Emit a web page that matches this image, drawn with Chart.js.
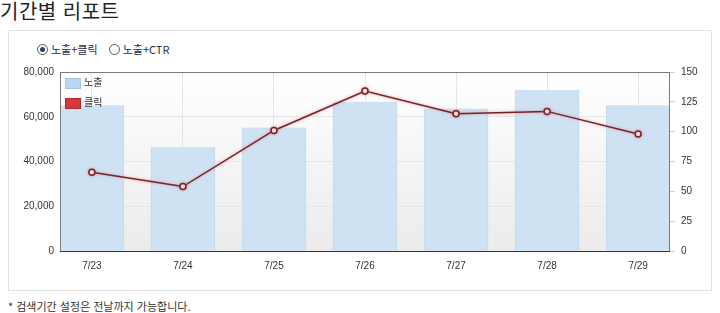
<!DOCTYPE html>
<html lang="ko">
<head>
<meta charset="utf-8">
<script src="https://cdn.jsdelivr.net/npm/chart.js@4"></script>
<style>
  body { margin: 0; width: 720px; height: 313px; background: #fff; position: relative; overflow: hidden;
         font-family: "Noto Sans CJK KR", "Noto Sans", sans-serif; color: #333; }
  h1 { position: absolute; left: 0; top: -4px; margin: 0; font-size: 20px; font-weight: 400; color: #222; letter-spacing: 0.5px; }
  .box { position: absolute; left: 8px; top: 30px; width: 702px; height: 259px; border: 1px solid #e2e2e2; }
  .radios { position: absolute; left: 37px; top: 39px; font-size: 11px; color: #1d2a4a; }
  .radio { display: inline-block; vertical-align: middle; width: 9px; height: 9px; border: 1px solid #555; border-radius: 50%;
           position: relative; margin-right: 3px; background: #fff; }
  .radio.on::after { content: ""; position: absolute; left: 2px; top: 2px; width: 5px; height: 5px; border-radius: 50%; background: #2a3f7a; }
  .radios span.t { vertical-align: middle; margin-right: 8px; }
  .legend { position: absolute; left: 65px; top: 75px; font-size: 10px; color: #333; }
  .legend div { height: 20px; line-height: 13px; }
  .legend i { display: inline-block; vertical-align: middle; width: 14px; height: 9px; margin-right: 3px; }
  .note { position: absolute; left: 8px; top: 298px; font-size: 11px; color: #333; }
  canvas { position: absolute; left: 10px; top: 60px; }
</style>
</head>
<body>
<h1>기간별 리포트</h1>
<div class="box"></div>
<div class="radios">
  <span class="radio on"></span><span class="t">노출+클릭</span>
  <span class="radio"></span><span class="t">노출+CTR</span>
</div>
<div id="wrap"><canvas id="chart" width="700" height="214"></canvas></div>
<div class="legend">
  <div><i style="background:#b9d7f0;border:1px solid #a6c8e6"></i>노출</div>
  <div><i style="background:#d23a3a;border:1px solid #b02a2a"></i>클릭</div>
</div>
<div class="note">* 검색기간 설정은 전날까지 가능합니다.</div>
<script>
const labels = ["7/23", "7/24", "7/25", "7/26", "7/27", "7/28", "7/29"];
const impressions = [65100, 46400, 55200, 66700, 63700, 72000, 65100];
const clicks = [66, 54, 101, 134, 115, 117, 98];
const leftTicks = [0, 20000, 40000, 60000, 80000];
const rightTicks = [0, 25, 50, 75, 100, 125, 150];

// fond dégradé + cadre autour de la zone du graphique
const areaPlugin = {
  id: 'area',
  beforeDraw(chart) {
    const { ctx, chartArea: a } = chart;
    const g = ctx.createLinearGradient(0, a.top, 0, a.bottom);
    g.addColorStop(0, '#ffffff');
    g.addColorStop(1, '#ebebeb');
    ctx.save();
    ctx.fillStyle = g;
    ctx.fillRect(a.left, a.top, a.right - a.left, a.bottom - a.top);
    ctx.restore();
  },
  afterDatasetsDraw(chart) {
    const { ctx, chartArea: a } = chart;
    ctx.save();
    ctx.strokeStyle = '#7a7a7a';
    ctx.lineWidth = 1;
    ctx.strokeRect(a.left + 0.5, a.top + 0.5, a.right - a.left - 1, a.bottom - a.top);
    ctx.strokeStyle = '#333';
    ctx.beginPath();
    ctx.moveTo(a.left, a.bottom + 0.5);
    ctx.lineTo(a.right, a.bottom + 0.5);
    ctx.stroke();
    ctx.restore();
  },
  beforeDatasetDraw(chart, args) {
    if (args.index === 1) {
      chart.ctx.save();
      chart.ctx.shadowColor = 'rgba(210,120,120,0.7)';
      chart.ctx.shadowBlur = 3;
    }
  },
  afterDatasetDraw(chart, args) {
    if (args.index === 1) chart.ctx.restore();
  }
};

new Chart(document.getElementById("chart"), {
  type: 'bar',
  data: {
    datasets: [{
      label: '노출',
      data: impressions.map((v, i) => ({ x: i, y: v })),
      backgroundColor: '#cfe2f3',
      borderColor: '#c0d8ee',
      borderWidth: { left: 1, right: 1, top: 0, bottom: 0 },
      barThickness: 64,
      yAxisID: 'y',
      order: 2
    }, {
      type: 'line',
      label: '클릭',
      data: clicks.map((v, i) => ({ x: i, y: v })),
      borderColor: '#7b1f27',
      borderWidth: 1.5,
      pointRadius: 3,
      pointBorderWidth: 1.5,
      pointBackgroundColor: '#fff',
      pointBorderColor: '#7b1f27',
      tension: 0,
      yAxisID: 'y1',
      order: 1
    }]
  },
  options: {
    responsive: false,
    animation: false,
    layout: { padding: { top: 10, left: 0, right: 0, bottom: 0 } },
    plugins: { legend: { display: false }, tooltip: { enabled: false } },
    scales: {
      x: {
        type: 'linear',
        offset: false,
        min: -0.35,
        max: 6.35,
        afterFit: s => { s.height = 23; },
        afterBuildTicks: s => { s.ticks = labels.map((l, i) => ({ value: i })); },
        ticks: {
          includeBounds: false,
          stepSize: 1,
          padding: 9,
          color: '#333',
          font: { family: 'Liberation Sans', size: 10 },
          callback: v => labels[v]
        },
        grid: { color: '#e4e4e4', drawTicks: false, offset: false },
        border: { display: false }
      },
      y: {
        position: 'left',
        min: 0,
        max: 80000,
        afterFit: s => { s.width = 50; },
        afterBuildTicks: s => { s.ticks = leftTicks.map(v => ({ value: v })); },
        ticks: {
          padding: 6,
          color: '#333',
          font: { family: 'Liberation Sans', size: 10 },
          callback: v => v.toLocaleString('en-US')
        },
        grid: { color: '#e6e6e6', drawTicks: false },
        border: { display: false }
      },
      y1: {
        position: 'right',
        min: 0,
        max: 150,
        afterFit: s => { s.width = 40; },
        afterBuildTicks: s => { s.ticks = rightTicks.map(v => ({ value: v })); },
        ticks: {
          padding: 6,
          color: '#333',
          font: { family: 'Liberation Sans', size: 10 }
        },
        grid: { drawOnChartArea: false, color: '#d0d0d0', tickLength: 5 },
        border: { display: false }
      }
    }
  },
  plugins: [areaPlugin]
});
</script>
</body>
</html>
